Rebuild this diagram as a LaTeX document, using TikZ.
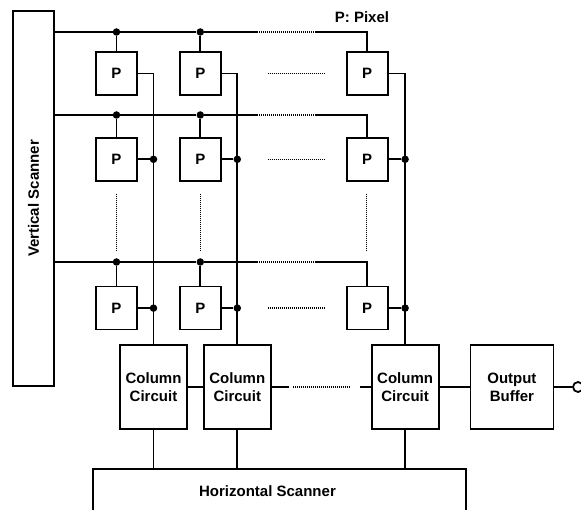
\documentclass[tikz,border=0pt]{standalone}
\usepackage{fontspec}
\setmainfont{Liberation Sans}
\usetikzlibrary{positioning,calc}

\begin{document}
\begin{tikzpicture}[
  x=1pt,y=-1pt,
  blk/.style={
    draw,
    line width=1.8pt,
    align=center,
    inner sep=0pt,
    font=\fontsize{15}{18}\selectfont\bfseries
  },
  pix/.style={blk,minimum width=41pt,minimum height=43pt},
  ccirc/.style={blk,minimum width=67pt,minimum height=84pt},
  jdot/.style={circle,fill,inner sep=0pt,minimum size=7.5pt},
  wire/.style={line width=1.8pt},
  dotln/.style={line width=1.2pt,dash pattern=on 1pt off 1pt}
]
\useasboundingbox (0,0) rectangle (581,510);

% scanners
\node[blk,minimum width=41pt,minimum height=375pt] (vs) at (33.5,198.5) {\rotatebox{90}{Vertical Scanner}};
\node[blk,minimum width=373pt,minimum height=44pt,
  label={[xshift=-12pt,font=\fontsize{15}{18}\selectfont\bfseries]center:Horizontal Scanner}] (hs) at (279.5,491) {};
\node[font=\fontsize{15}{18}\selectfont\bfseries] (lgd) at (362,17) {P: Pixel};

% pixel array
\node[pix] (p11) at (116.5,73.5) {P};
\node[pix,right=41pt of p11] (p12) {P};
\node[pix,right=124pt of p12] (p13) {P};
\node[pix,below=41pt of p11] (p21) {P};
\node[pix,below=41pt of p12] (p22) {P};
\node[pix,below=41pt of p13] (p23) {P};
\node[pix,below=104pt of p21] (p31) {P};
\node[pix,below=104pt of p22] (p32) {P};
\node[pix,below=104pt of p23] (p33) {P};

% column circuits and output
\node[ccirc] (cc1) at (153.5,387) {Column\\Circuit};
\node[ccirc,right=15pt of cc1] (cc2) {Column\\Circuit};
\node[ccirc,right=99pt of cc2] (cc3) {Column\\Circuit};
\node[blk,minimum width=83pt,minimum height=84pt,right=30pt of cc3] (ob) {Output\\Buffer};
\node[circle,draw,line width=1.8pt,minimum size=10pt,inner sep=0pt] (oc) at (578,387) {};

% row select lines
\coordinate (r1) at (54,32);
\coordinate (r2) at (54,115);
\coordinate (r3) at (54,262);
\node[jdot] (t11) at (p11.north |- r1) {};
\node[jdot] (t12) at (p12.north |- r1) {};
\node[jdot] (t21) at (p21.north |- r2) {};
\node[jdot] (t22) at (p22.north |- r2) {};
\node[jdot] (t31) at (p31.north |- r3) {};
\node[jdot] (t32) at (p32.north |- r3) {};
\coordinate (s1) at (257,32);
\coordinate (e1) at (315,32);
\coordinate (s2) at (257,115);
\coordinate (e2) at (315,115);
\coordinate (s3) at (257,262);
\coordinate (e3) at (315,262);

\draw[wire] (r1) -- (t12) -- (s1);
\draw[dotln] (s1) -- (e1);
\draw[wire] (e1) -| (p13.north);
\draw[wire] (t11) -- (p11.north);
\draw[wire] (t12) -- (p12.north);
\draw[wire] (r2) -- (t22) -- (s2);
\draw[dotln] (s2) -- (e2);
\draw[wire] (e2) -| (p23.north);
\draw[wire] (t21) -- (p21.north);
\draw[wire] (t22) -- (p22.north);
\draw[wire] (r3) -- (t32) -- (s3);
\draw[dotln] (s3) -- (e3);
\draw[wire] (e3) -| (p33.north);
\draw[wire] (t31) -- (p31.north);
\draw[wire] (t32) -- (p32.north);

% column signal lines
\draw[wire] (p11.east) -| (cc1.north);
\draw[wire] (p12.east) -| (cc2.north);
\draw[wire] (p13.east) -| (cc3.north);
\node[jdot] (d21) at (cc1.north |- p21.east) {};
\node[jdot] (d22) at (cc2.north |- p22.east) {};
\node[jdot] (d23) at (cc3.north |- p23.east) {};
\node[jdot] (d31) at (cc1.north |- p31.east) {};
\node[jdot] (d32) at (cc2.north |- p32.east) {};
\node[jdot] (d33) at (cc3.north |- p33.east) {};
\draw[wire] (p21.east) -- (d21);
\draw[wire] (p22.east) -- (d22);
\draw[wire] (p23.east) -- (d23);
\draw[wire] (p31.east) -- (d31);
\draw[wire] (p32.east) -- (d32);
\draw[wire] (p33.east) -- (d33);

% omitted pixels
\draw[dotln] ($(p12.east)+(46,0)$) -- ($(p13.west)+(-20,0)$);
\draw[dotln] ($(p22.east)+(46,0)$) -- ($(p23.west)+(-20,0)$);
\draw[dotln] ($(p32.east)+(46,0)$) -- ($(p33.west)+(-20,0)$);
\draw[dotln] ($(p21.south)+(0,12)$) -- ($(p31.north)+(0,-34)$);
\draw[dotln] ($(p22.south)+(0,12)$) -- ($(p32.north)+(0,-34)$);
\draw[dotln] ($(p23.south)+(-1,12)$) -- ($(p33.north)+(-1,-34)$);

% readout chain
\draw[wire] (cc1.east) -- (cc2.west);
\draw[wire] (cc2.east) -- ($(cc2.east)+(17,0)$);
\draw[dotln] ($(cc2.east)+(21,0)$) -- ($(cc3.west)+(-21,0)$);
\draw[wire] ($(cc3.west)+(-11,0)$) -- (cc3.west);
\draw[wire] (cc3.east) -- (ob.west);
\draw[wire] (ob.east) -- (oc.west);
\draw[wire] (cc1.south) -- (cc1.south |- hs.north);
\draw[wire] (cc2.south) -- (cc2.south |- hs.north);
\draw[wire] (cc3.south) -- (cc3.south |- hs.north);
\end{tikzpicture}
\end{document}
